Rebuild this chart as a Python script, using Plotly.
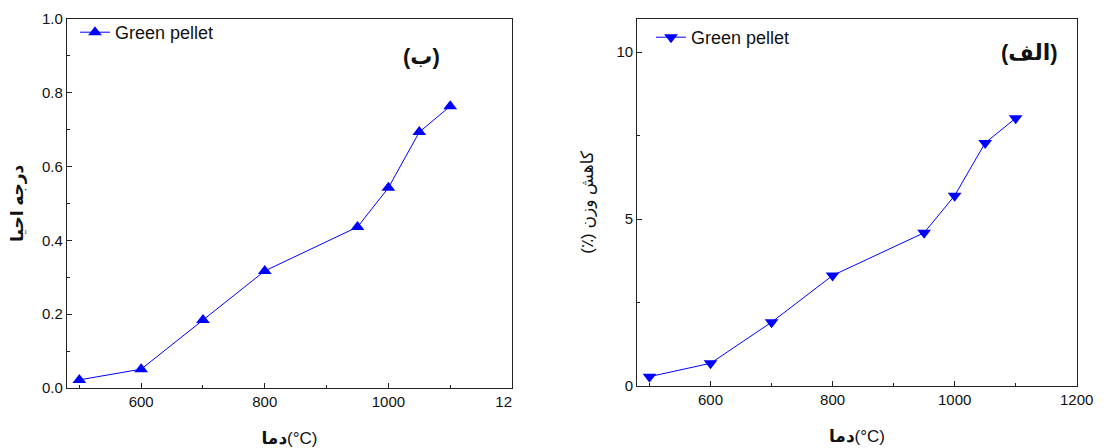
import plotly.graph_objects as go

# Data
temps = [500, 600, 700, 800, 950, 1000, 1050, 1100]
reduction_degree = [0.022, 0.051, 0.184, 0.317, 0.436, 0.542, 0.693, 0.763]
weight_loss = [0.28, 0.68, 1.91, 3.31, 4.59, 5.70, 7.28, 8.02]
series_name = "Green pellet"
left_xticks = [600, 800, 1000, 1200]
left_xticktext = ["600", "800", "1000", "12<span style='color:rgba(0,0,0,0)'>00</span>"]
right_xticks = [600, 800, 1000, 1200]
left_yticks = [0.0, 0.2, 0.4, 0.6, 0.8, 1.0]
left_yticktext = ["0.0", "0.2", "0.4", "0.6", "0.8", "1.0"]
right_yticks = [0, 5, 10]

FONT = "Arial, 'Liberation Sans', 'DejaVu Sans', sans-serif"
BLUE = "#0000FF"
W, H = 1115, 448

fig = go.Figure()
fig.add_trace(go.Scatter(
    x=temps, y=reduction_degree, mode="lines+markers", name=series_name,
    line=dict(color=BLUE, width=1),
    marker=dict(symbol="triangle-up", size=12, color=BLUE),
    xaxis="x", yaxis="y", legend="legend"))
fig.add_trace(go.Scatter(
    x=temps, y=weight_loss, mode="lines+markers", name=series_name,
    line=dict(color=BLUE, width=1),
    marker=dict(symbol="triangle-down", size=12, color=BLUE),
    xaxis="x2", yaxis="y2", legend="legend2"))

axis_common = dict(showline=True, mirror=True, linecolor="#222", linewidth=1.3,
                   ticks="inside", ticklen=5, tickwidth=1, tickcolor="#222",
                   showgrid=False, zeroline=False, automargin=False,
                   tickfont=dict(family=FONT, size=15, color="#111"))

fig.update_layout(
    width=W, height=H, paper_bgcolor="white", plot_bgcolor="white",
    margin=dict(l=0, r=0, t=0, b=0, autoexpand=False),
    font=dict(family=FONT, color="#111"),
    xaxis=dict(domain=[67/W, 512/W], range=[480, 1200], anchor="y",
               tickvals=left_xticks, ticktext=left_xticktext,
               minor=dict(ticks="inside", dtick=100, tick0=500, ticklen=3, tickcolor="#222"),
               title=dict(text="<b>دما</b>(°C)", font=dict(family=FONT, size=17), standoff=22),
               **axis_common),
    yaxis=dict(domain=[1-388/H, 1-18.7/H], range=[0, 1.0], anchor="x",
               tickvals=left_yticks, ticktext=left_yticktext,
               minor=dict(ticks="inside", dtick=0.1, ticklen=3, tickcolor="#222"),
               title=dict(text="<b>درجه احیا</b>", font=dict(family=FONT, size=17), standoff=14),
               **axis_common),
    xaxis2=dict(domain=[637.3/W, 1076.7/W], range=[480, 1200], anchor="y2",
                tickvals=right_xticks,
                minor=dict(ticks="inside", dtick=100, tick0=500, ticklen=3, tickcolor="#222"),
                title=dict(text="<b>دما</b>(°C)", font=dict(family=FONT, size=17), standoff=22),
                **axis_common),
    yaxis2=dict(domain=[1-386/H, 1-18.7/H], range=[0, 11], anchor="x2",
                tickvals=right_yticks,
                minor=dict(ticks="inside", dtick=2.5, ticklen=3, tickcolor="#222"),
                title=dict(text="کاهش وزن (٪)\u200F", font=dict(family=FONT, size=17), standoff=18),
                **axis_common),
    legend=dict(x=75/W, y=1-14/H, xanchor="left", yanchor="top",
                bgcolor="rgba(0,0,0,0)", font=dict(family=FONT, size=18, color="#111")),
    legend2=dict(x=651/W, y=1-19/H, xanchor="left", yanchor="top",
                 bgcolor="rgba(0,0,0,0)", font=dict(family=FONT, size=18, color="#111")),
    annotations=[
        dict(text="<b>(ب)</b>", x=421/W, y=1-42/H, xref="paper", yref="paper",
             showarrow=False, font=dict(family=FONT, size=22, color="#111")),
        dict(text="<b>(الف)</b>", x=1060/W, y=1-38/H, xref="paper", yref="paper",
             showarrow=False, font=dict(family=FONT, size=22, color="#111")),
    ],
    showlegend=True,
)

fig.write_html("out.html", config={"displayModeBar": False},
               post_script="document.body.style.margin='0px';")
